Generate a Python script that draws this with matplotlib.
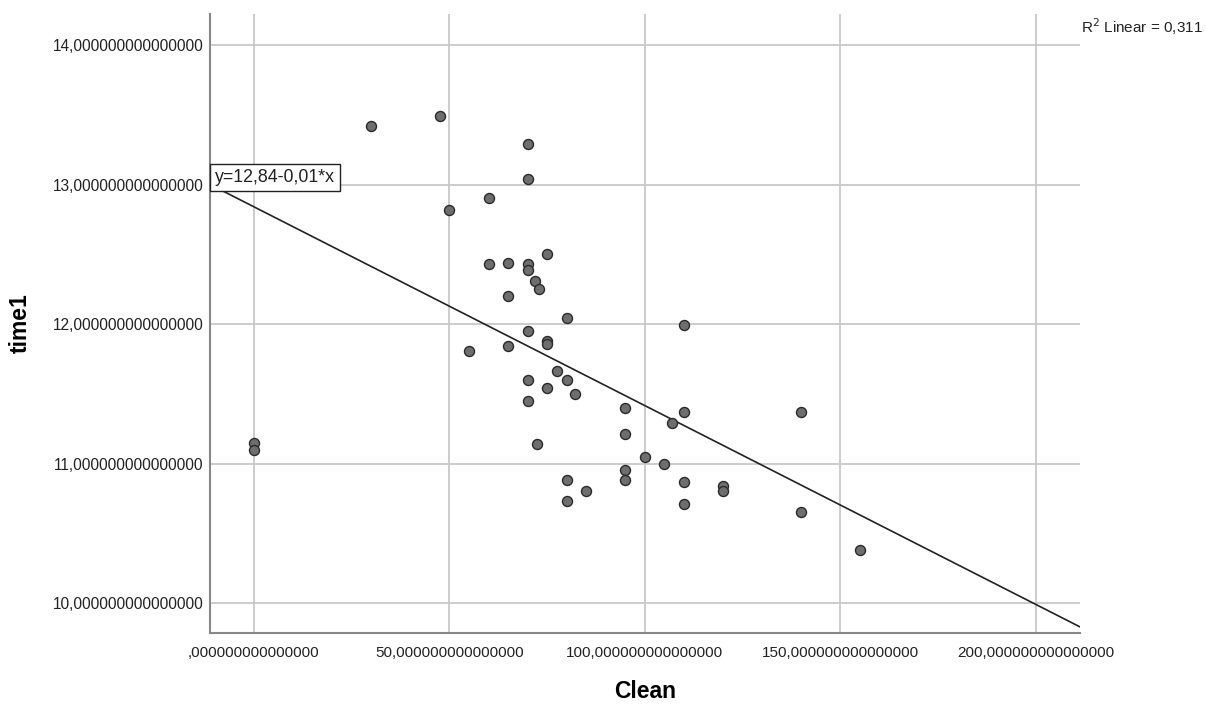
import numpy as np
import matplotlib
matplotlib.use("Agg")
import matplotlib.pyplot as plt
from matplotlib.ticker import FixedLocator, FuncFormatter

plt.rcParams['font.family'] = ['Liberation Sans', 'DejaVu Sans']

clean = [0, 0, 30, 47.5, 50, 60, 70, 70, 60, 65, 70, 70, 75, 72, 73, 65, 80, 110,
         70, 55, 65, 75, 75, 77.5, 70, 80, 75, 82, 70, 95, 110, 140, 107, 95, 72.5,
         100, 105, 95, 95, 80, 110, 120, 120, 85, 80, 110, 140, 155]
time1 = [11.15, 11.10, 13.42, 13.49, 12.82, 12.90, 13.29, 13.04, 12.43, 12.44, 12.43,
         12.39, 12.50, 12.31, 12.25, 12.20, 12.04, 11.99, 11.95, 11.81, 11.84, 11.88,
         11.86, 11.66, 11.60, 11.60, 11.54, 11.50, 11.45, 11.40, 11.37, 11.37, 11.29,
         11.21, 11.14, 11.05, 11.00, 10.95, 10.88, 10.88, 10.87, 10.84, 10.80, 10.80,
         10.73, 10.71, 10.65, 10.38]

# fitted line as shown in the chart
fit_intercept = 12.84
fit_slope = -0.01425

x_ticks = [0, 50, 100, 150, 200]
y_ticks = [10, 11, 12, 13, 14]
equation_text = "y=12,84-0,01*x"
r2_text = "R$^2$ Linear = 0,311"

def fmt(v, pos):
    s = f"{v:.15f}".replace('.', ',')
    if s.startswith('0,'):
        s = s[1:]
    return s

fig = plt.figure(figsize=(12.06, 7.05), dpi=100)
ax = fig.add_axes([0.1741, 0.1021, 0.7214, 0.878])

xmin, xmax = -11.25, 211.3
ymin, ymax = 9.785, 14.222
ax.set_xlim(xmin, xmax)
ax.set_ylim(ymin, ymax)

ax.xaxis.set_major_locator(FixedLocator(x_ticks))
ax.yaxis.set_major_locator(FixedLocator(y_ticks))
ax.xaxis.set_major_formatter(FuncFormatter(fmt))
ax.yaxis.set_major_formatter(FuncFormatter(fmt))
ax.grid(True, color='#c8c8c8', linewidth=1.3)
ax.set_axisbelow(True)
ax.tick_params(axis='x', length=0, labelsize=11, colors='#222222', pad=9.5)
ax.tick_params(axis='y', length=0, labelsize=11.2, colors='#222222', pad=4.5)

for s in ['top', 'right']:
    ax.spines[s].set_visible(False)
for s in ['left', 'bottom']:
    ax.spines[s].set_color('#888888')
    ax.spines[s].set_linewidth(1.5)

xs = np.array([xmin, xmax])
ax.plot(xs, fit_intercept + fit_slope * xs, color='#222222', linewidth=1.2,
        zorder=2, clip_on=True)

ax.scatter(clean, time1, s=52, facecolor='#6e6e6e', edgecolor='#2a2a2a',
           linewidth=1.0, zorder=3)

ax.text(xmin + 1.3, 13.05, equation_text, ha='left', va='center', fontsize=12.8,
        color='#222222', zorder=4,
        bbox=dict(boxstyle='square,pad=0.3', facecolor='white', edgecolor='#222222',
                  linewidth=1.0))

fig.text(0.8955 + 0.001, 0.962, r2_text, ha='left', va='center', fontsize=11,
         color='#222222')

ax.set_xlabel('Clean', fontsize=16.5, fontweight='bold', labelpad=14)
ax.set_ylabel('time1', fontsize=16.5, fontweight='bold', labelpad=15)

fig.savefig('out.png', dpi=100, facecolor='white')
